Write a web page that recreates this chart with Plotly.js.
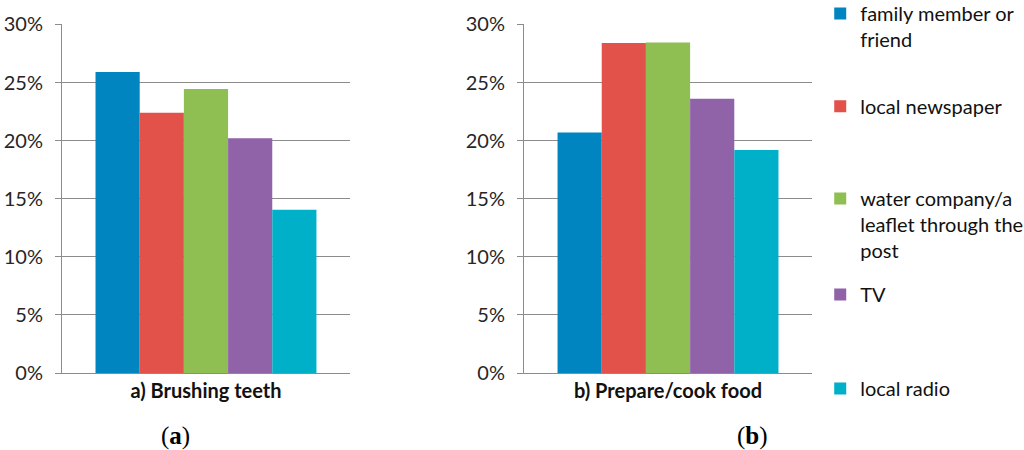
<!DOCTYPE html>
<html>
<head>
<meta charset="utf-8">
<script src="https://cdn.plot.ly/plotly-3.0.1.min.js"></script>
<style>html,body{margin:0;padding:0;background:#fff;}#chart{width:1024px;height:450px;}</style>
</head>
<body>
<div id="chart"></div>
<script>
// Data
var panelCategories = ['a) Brushing teeth', 'b) Prepare/cook food'];
var panelLabels = ['(<b>a</b>)', '(<b>b</b>)'];
var sourceNames = [
  'family member or<br>friend',
  'local newspaper',
  'water company/a<br>leaflet through the<br>post',
  'TV',
  'local radio'
];
var brushingTeeth = [25.9, 22.4, 24.45, 20.2, 14.05];
var prepareFood = [20.7, 28.4, 28.45, 23.6, 19.2];
var yTickVals = [0, 5, 10, 15, 20, 25, 30];
var yTickText = ['0%', '5%', '10%', '15%', '20%', '25%', '30%'];

var colors = ['#0085C1', '#E3514B', '#8FBE52', '#9063A8', '#00B0C8'];
var legendTops = [1.0133, 0.807, 0.602, 0.389, 0.180];

var traces = [];
var panels = [brushingTeeth, prepareFood];
var axes = [['x', 'y'], ['x2', 'y2']];
for (var p = 0; p < 2; p++) {
  for (var i = 0; i < sourceNames.length; i++) {
    traces.push({
      type: 'bar',
      x: [panelCategories[p]],
      y: [panels[p][i]],
      name: sourceNames[i],
      xaxis: axes[p][0],
      yaxis: axes[p][1],
      marker: {color: colors[i], line: {width: 0}},
      legendgroup: 'g' + i,
      legend: i === 0 ? 'legend' : 'legend' + (i + 1),
      showlegend: p === 0,
      hoverinfo: 'skip'
    });
  }
}

var grid = '#8c8c8c';
var tickFont = {family: 'Lato, "Open Sans", sans-serif', size: 20, color: '#262626'};
function yax(anchor) {
  return {
    domain: [0.1711, 0.9456],
    anchor: anchor,
    range: [0, 30],
    tickmode: 'array',
    tickvals: yTickVals,
    ticktext: yTickText,
    showgrid: true,
    gridcolor: grid,
    gridwidth: 1,
    zeroline: false,
    showline: true,
    linecolor: grid,
    linewidth: 1,
    ticks: 'outside',
    ticklen: 6,
    tickcolor: grid,
    tickfont: tickFont,
    ticklabelstandoff: 8,
    automargin: false,
    fixedrange: true
  };
}
function xax(domain, anchor) {
  return {
    domain: domain,
    anchor: anchor,
    type: 'category',
    showline: true,
    linecolor: grid,
    linewidth: 1,
    ticks: '',
    showgrid: false,
    zeroline: false,
    automargin: false,
    tickfont: {family: 'Lato, "Open Sans", sans-serif', size: 20, color: '#111', weight: 'bold'},
    fixedrange: true
  };
}

var layout = {
  width: 1024,
  height: 450,
  margin: {l: 0, r: 0, t: 0, b: 0, autoexpand: false},
  paper_bgcolor: '#ffffff',
  plot_bgcolor: '#ffffff',
  barmode: 'group',
  bargap: 0.233,
  bargroupgap: 0,
  xaxis: xax([0.0605, 0.3418], 'y'),
  yaxis: yax('x'),
  xaxis2: xax([0.5117, 0.793], 'y2'),
  yaxis2: yax('x2'),
  annotations: [
    {text: panelLabels[0], xref: 'paper', yref: 'paper', x: 0.1714, y: 0.031, xanchor: 'center', yanchor: 'middle', showarrow: false,
     font: {family: '"Liberation Serif", serif', size: 25, color: '#000'}},
    {text: panelLabels[1], xref: 'paper', yref: 'paper', x: 0.7344, y: 0.031, xanchor: 'center', yanchor: 'middle', showarrow: false,
     font: {family: '"Liberation Serif", serif', size: 25, color: '#000'}}
  ]
};
var legFont = {family: 'Lato, "Open Sans", sans-serif', size: 20, color: '#111'};
for (var k = 0; k < 5; k++) {
  var key = k === 0 ? 'legend' : 'legend' + (k + 1);
  layout[key] = {
    x: 0.801, y: legendTops[k], xanchor: 'left', yanchor: 'top',
    bgcolor: 'rgba(0,0,0,0)', borderwidth: 0, font: legFont, valign: 'top'
  };
}

Plotly.newPlot('chart', traces, layout, {staticPlot: true, displayModeBar: false});
</script>
</body>
</html>
